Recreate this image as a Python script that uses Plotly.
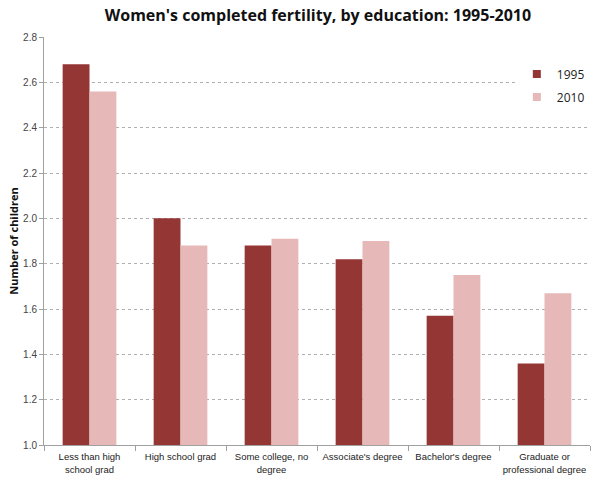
import plotly.graph_objects as go

categories = ["Less than high<br>school grad", "High school grad", "Some college, no<br>degree",
              "Associate's degree", "Bachelor's degree", "Graduate or<br>professional degree"]
values_1995 = [2.68, 2.00, 1.88, 1.82, 1.57, 1.36]
values_2010 = [2.56, 1.88, 1.91, 1.90, 1.75, 1.67]
y_ticks = [1.0, 1.2, 1.4, 1.6, 1.8, 2.0, 2.2, 2.4, 2.6, 2.8]
series = [("1995", values_1995, "#943634"), ("2010", values_2010, "#E6B9B8")]

fig = go.Figure()
for name, vals, col in series:
    fig.add_trace(go.Bar(name=name, x=categories, y=vals, marker_color=col,
                         marker_line_width=0, showlegend=False))
for name, vals, col in series:
    fig.add_trace(go.Scatter(name=name, x=[None], y=[None], mode="markers",
                             legendgroup=name,
                             marker=dict(symbol="square", size=8, color=col),
                             showlegend=True))

fig.update_layout(
    width=615, height=481,
    barmode="group", bargap=0.41, bargroupgap=0,
    paper_bgcolor="white", plot_bgcolor="white",
    margin=dict(l=44, r=25, t=37, b=36),
    font=dict(family="Liberation Sans, Arial, sans-serif", size=10, color="#333333"),
    title=dict(text="<b>Women's completed fertility, by education: 1995-2010</b>",
               x=0.517, xanchor="center", y=0.968, yanchor="middle",
               font=dict(family="Open Sans, DejaVu Sans, sans-serif", size=16, color="#111111")),
    legend=dict(x=0.866, y=0.945, xanchor="left", yanchor="top",
                bgcolor="white", font=dict(family="Open Sans, sans-serif", size=12, color="#222222"),
                itemwidth=30, tracegroupgap=4, itemclick=False),
    showlegend=True,
)
fig.update_xaxes(showline=True, linecolor="#A0A0A0", linewidth=1, tickangle=0,
                 ticks="outside", tickson="boundaries", ticklen=5, tickcolor="#A0A0A0",
                 ticklabelstandoff=3,
                 tickfont=dict(size=9.5, color="#222222"), automargin=False)
fig.update_yaxes(range=[1.0, 2.8], tickvals=y_ticks, tickformat=".1f",
                 showline=True, linecolor="#A0A0A0", linewidth=1,
                 ticks="outside", ticklen=4, tickcolor="#A0A0A0",
                 showgrid=True, gridcolor="#B0B0B0", griddash="dot", gridwidth=1,
                 zeroline=False, automargin=False,
                 tickfont=dict(size=10, color="#444444"),
                 title=dict(text="<b>Number of children</b>", standoff=2,
                            font=dict(family="Open Sans, sans-serif", size=11, color="#111111")))

fig.write_html("out.html", config={"displayModeBar": False},
               post_script="document.body.style.margin='0';")
